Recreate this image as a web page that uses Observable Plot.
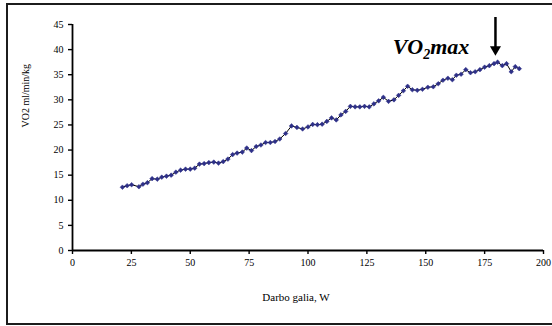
<!DOCTYPE html>
<html>
<head>
<meta charset="utf-8">
<script src="https://cdn.jsdelivr.net/npm/d3@7"></script>
<script src="https://cdn.jsdelivr.net/npm/@observablehq/plot@0.6"></script>
<style>
  html, body { margin: 0; background: #fff; overflow: hidden; }
  #wrap { position: relative; width: 552px; height: 326px; overflow: hidden; background: #fff; }
  #wrap svg { position: absolute; left: 0; top: 0; }
  #border {
    position: absolute; left: 6px; top: 3px; width: 546px; height: 322px;
    box-sizing: border-box; border: 2px solid #1c1c1c; border-right: none; pointer-events: none;
  }
</style>
</head>
<body>
<div id="wrap"><div id="border"></div></div>
<script>
// Incremental exercise test: oxygen uptake against work rate
const power = [
  21.2, 23.2, 25.1, 28.2, 29.9, 31.8, 33.8, 36.0, 37.9, 39.9,
  41.9, 43.9, 45.9, 48.0, 50.0, 51.9, 53.9, 55.9, 57.9, 60.0,
  62.0, 64.0, 66.0, 68.0, 69.9, 72.1, 74.0, 76.0, 78.0, 80.0,
  82.0, 84.0, 86.0, 88.0, 90.5, 93.0, 95.3, 97.7, 100.0, 102.0,
  104.0, 106.0, 108.0, 110.0, 112.0, 114.0, 116.0, 118.0, 120.0, 122.0,
  124.0, 126.0, 128.0, 130.0, 132.0, 134.2, 136.5, 138.5, 140.5, 142.3,
  144.3, 146.4, 148.6, 150.9, 153.2, 155.3, 157.3, 159.4, 161.3, 163.0,
  165.0, 167.0, 169.0, 171.0, 173.0, 175.0, 177.0, 179.0, 180.5, 182.5,
  184.3, 186.3, 188.0, 189.7
];
const vo2 = [
  12.6, 12.9, 13.1, 12.7, 13.2, 13.5, 14.3, 14.2, 14.6, 14.8,
  15.0, 15.6, 16.0, 16.2, 16.2, 16.4, 17.2, 17.3, 17.5, 17.6,
  17.4, 17.7, 18.2, 19.1, 19.4, 19.6, 20.4, 19.9, 20.7, 21.0,
  21.5, 21.5, 21.7, 22.2, 23.3, 24.8, 24.5, 24.2, 24.6, 25.1,
  25.05, 25.15, 25.7, 26.4, 26.0, 27.0, 27.7, 28.7, 28.6, 28.6,
  28.7, 28.6, 29.2, 29.8, 30.5, 29.7, 30.0, 30.9, 31.8, 32.7,
  32.0, 31.9, 32.1, 32.5, 32.6, 33.2, 33.9, 34.3, 34.0, 34.9,
  35.1, 36.0, 35.4, 35.6, 36.0, 36.5, 36.8, 37.2, 37.5, 36.8,
  37.2, 35.6, 36.6, 36.2
];

const xTicks = [0, 25, 50, 75, 100, 125, 150, 175, 200];
const yTicks = [0, 5, 10, 15, 20, 25, 30, 35, 40, 45];
const xLabel = "Darbo galia, W";
const yLabel = "VO2 ml/min/kg";

// VO2max annotation: label pieces and a downward arrow over the peak
const maxParts = ["VO", "2", "max"];
const maxLabelAt = {x: 168.5, y: 39.2};
const maxArrow = {x: 179.6, top: 45.2, tip: 38.8};

const rows = power.map((p, i) => ({power: p, vo2: vo2[i]}));
const serif = "'Liberation Serif', 'Times New Roman', serif";

const chart = Plot.plot({
  width: 552,
  height: 326,
  marginLeft: 72,
  marginRight: 9,
  marginTop: 24,
  marginBottom: 76,
  style: {fontFamily: serif, fontSize: "10px", background: "transparent", color: "#000"},
  x: {domain: [0, 200]},
  y: {domain: [0, 45]},
  marks: [
    Plot.axisX({ticks: xTicks, tickSize: 4, tickPadding: 4, strokeWidth: 1.4, label: null}),
    Plot.axisY({ticks: yTicks, tickSize: 4, tickPadding: 5, strokeWidth: 1.4, label: null}),
    Plot.ruleY([0], {stroke: "#000", strokeWidth: 1.8}),
    Plot.ruleX([0], {stroke: "#000", strokeWidth: 1.8}),
    Plot.line(rows, {x: "power", y: "vo2", stroke: "#000", strokeWidth: 1}),
    Plot.dot(rows, {x: "power", y: "vo2", symbol: "diamond2", r: 2.1, fill: "#2e3088", stroke: "#2e3088", strokeWidth: 0.5}),
    Plot.text([yLabel], {
      text: d => d, frameAnchor: "left", rotate: -90, dx: -47, dy: -10,
      fontSize: 10, fontFamily: serif
    }),
    Plot.text([xLabel], {
      text: d => d, frameAnchor: "bottom", dx: -12, dy: 50,
      fontSize: 11, fontFamily: serif
    }),
    Plot.ruleX([maxArrow], {x: "x", y1: "top", y2: "tip", dy: -6, stroke: "#000", strokeWidth: 2.5}),
    Plot.dot([maxArrow], {
      x: "x", y: "tip", symbol: "triangle", rotate: 180, r: 4.1, dy: -6.3,
      fill: "#000", stroke: "none"
    }),
    Plot.text([maxParts.join("")], {
      x: () => maxLabelAt.x, y: () => maxLabelAt.y, text: d => d,
      textAnchor: "end", lineAnchor: "bottom",
      fontSize: 22, fontWeight: "bold", fontStyle: "italic", fontFamily: serif,
      className: "vo2max-label"
    })
  ]
});

// Rebuild the annotation with a subscript "2"
const ns = "http://www.w3.org/2000/svg";
chart.querySelectorAll(".vo2max-label text").forEach(t => {
  t.textContent = "";
  const a = document.createElementNS(ns, "tspan");
  a.textContent = maxParts[0];
  const b = document.createElementNS(ns, "tspan");
  b.textContent = maxParts[1];
  b.setAttribute("dy", "5");
  b.setAttribute("font-size", "14");
  const c = document.createElementNS(ns, "tspan");
  c.textContent = maxParts[2];
  c.setAttribute("dy", "-5");
  t.append(a, b, c);
});

document.getElementById("wrap").appendChild(chart);
</script>
</body>
</html>
